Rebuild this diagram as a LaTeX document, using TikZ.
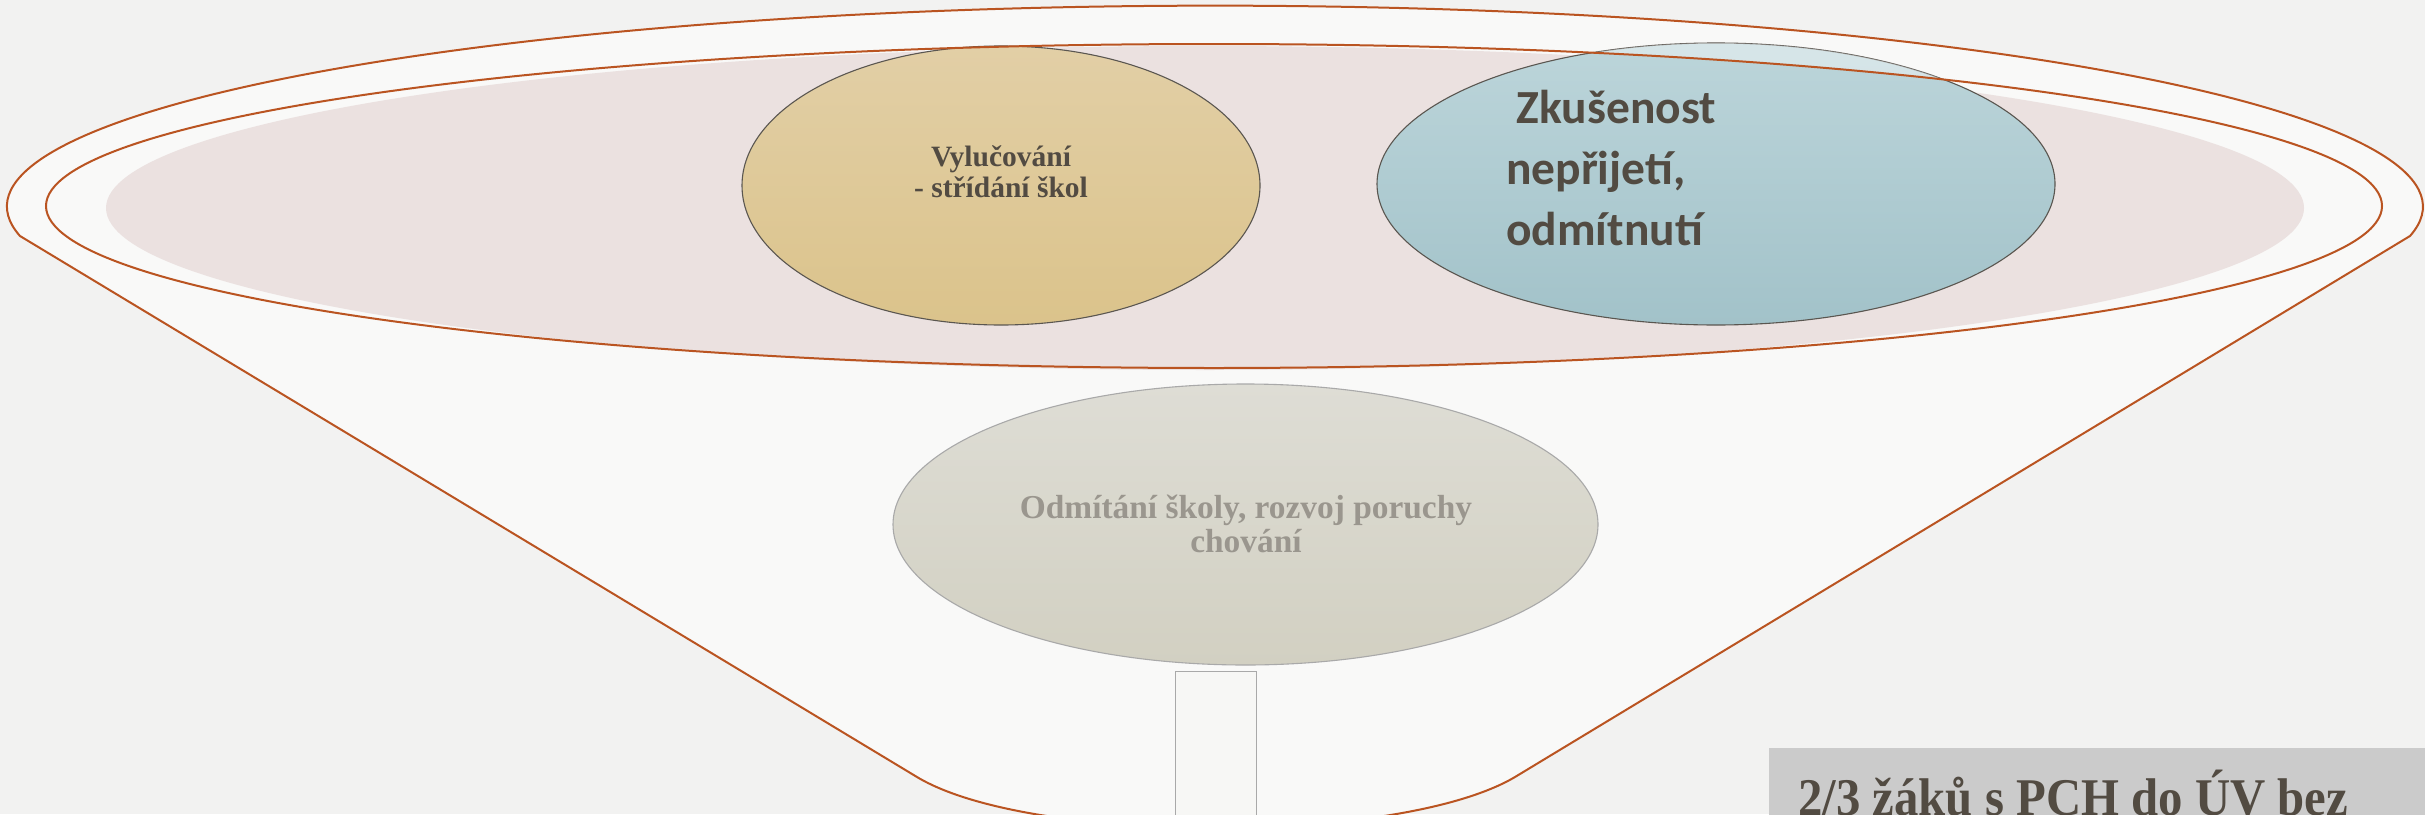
\documentclass[tikz,border=0pt]{standalone}
\usepackage{fontspec}
\setmainfont{Liberation Serif}
\newfontfamily\calfont{Carlito}
\newfontfamily\narrowserif[FakeStretch=0.92]{Liberation Serif}
\usetikzlibrary{shapes.geometric}
\definecolor{bg}{HTML}{F2F2F1}
\definecolor{funnelfill}{HTML}{F9F9F8}
\definecolor{rim}{HTML}{BA5421}
\definecolor{pinkfill}{HTML}{EBE1E0}
\definecolor{bordergray}{HTML}{5A5650}
\definecolor{txt}{HTML}{524B42}
\definecolor{odmtxtc}{HTML}{9A968E}
\definecolor{vyltop}{HTML}{E2CFA6}
\definecolor{vylbot}{HTML}{DBC38B}
\definecolor{zkutop}{HTML}{BCD5DA}
\definecolor{zkubot}{HTML}{A2C2C9}
\definecolor{odmtop}{HTML}{DEDDD5}
\definecolor{odmbot}{HTML}{D2D0C2}
\definecolor{boxgray}{HTML}{CBCBCB}
\definecolor{stemgray}{HTML}{A9A9A9}
\definecolor{stemfill}{HTML}{F7F7F5}
\begin{document}
\begin{tikzpicture}[x=1pt,y=-1pt,
  bubble/.style={ellipse, draw=bordergray, line width=1.1pt, inner sep=0pt},
  rimline/.style={draw=rim, line width=2pt},
  lbl/.style={inner sep=0pt, text=txt}]
\useasboundingbox (0,0) rectangle (2425,814);
\fill[bg] (0,0) rectangle (2425,814);
% funnel body
\fill[funnelfill] (20,236) arc[start angle=188.4, end angle=-8.4, x radius=1208pt, y radius=201pt]
  -- (1515,777) .. controls (1400,845) and (1030,845) .. (917,777) -- cycle;
% pink top ellipse
\fill[pinkfill] (1205,208) ellipse[x radius=1099pt, y radius=162pt];
% bubbles
\node[bubble, top color=odmtop, bottom color=odmbot, draw=stemgray, minimum width=705pt, minimum height=281pt] (odm) at (1245.5,524.5) {};
\node[bubble, top color=vyltop, bottom color=vylbot, minimum width=518pt, minimum height=279pt] (vyl) at (1001,185.5) {};
\node[bubble, top color=zkutop, bottom color=zkubot, minimum width=678pt, minimum height=282pt] (zku) at (1716,184) {};
\begin{scope}
  \clip (1716,184) ellipse[x radius=339pt, y radius=141pt];
  \fill[white, fill opacity=0.4, even odd rule] (1300,0) rectangle (2100,400)
    (1214,206) ellipse[x radius=1168pt, y radius=162pt];
\end{scope}
% stem
\node[draw=stemgray, fill=stemfill, line width=1.2pt, anchor=north west, minimum width=81pt, minimum height=200pt, inner sep=0pt] (stem) at (1175,671) {};
% rim lines
\draw[rimline] (20,236) arc[start angle=188.4, end angle=-8.4, x radius=1208pt, y radius=201pt]
  -- (1515,777) .. controls (1400,845) and (1030,845) .. (917,777) -- cycle;
\draw[rimline] (1214,206) ellipse[x radius=1168pt, y radius=162pt];
% texts (anchor=base sits on the last line)
\node[lbl, anchor=base, align=center, font=\bfseries\fontsize{29.5}{31}\selectfont] (vyltxt) at (1001,197) {Vylučování\\- střídání škol};
\node[lbl, anchor=base west, align=left, font=\calfont\bfseries\fontsize{47.5}{61}\selectfont] (zkutxt) at (1506,245) {\ Zkušenost\\nepřijetí,\\odmítnutí};
\node[lbl, text=odmtxtc, anchor=base, align=center, font=\bfseries\fontsize{33.4}{34}\selectfont] (odmtxt) at (1246,552) {Odmítání školy, rozvoj poruchy\\chování};
% bottom box
\node[fill=boxgray, anchor=north west, minimum width=700pt, minimum height=100pt, inner sep=0pt] (box) at (1769,748) {};
\node[lbl, anchor=base west, font=\narrowserif\bfseries\fontsize{53}{60}\selectfont] (boxtxt) at (1798,815) {2/3 žáků s PCH do ÚV bez};
\end{tikzpicture}
\end{document}
